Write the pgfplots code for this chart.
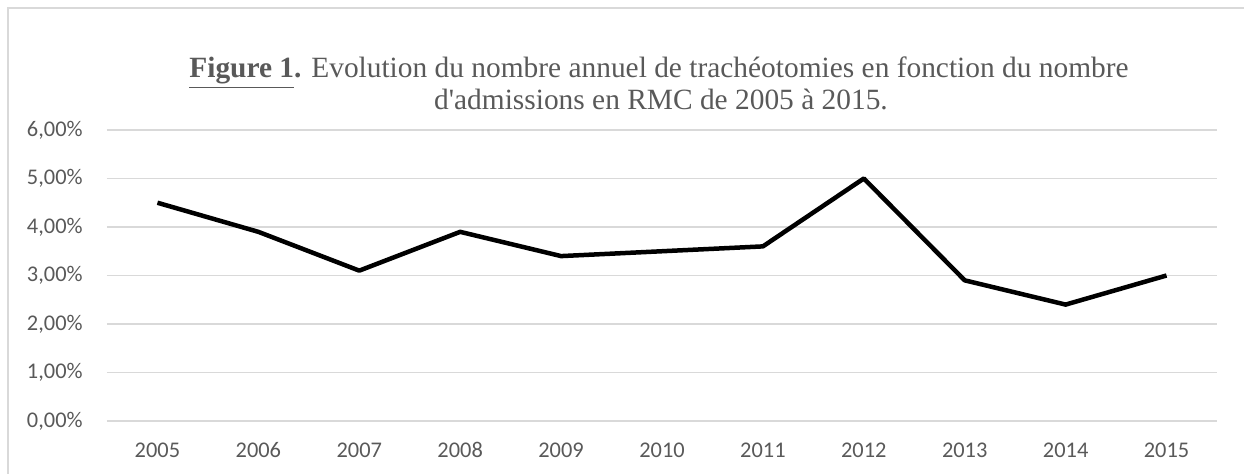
\documentclass[border=0pt]{standalone}
\usepackage{pgfplots}
\pgfplotsset{compat=1.18}
\usepackage{fontspec}
\setmainfont{Liberation Serif}[Ligatures=TeXOff]
\newfontfamily\calibri{Carlito}
\definecolor{txt}{HTML}{595959}
\definecolor{gridc}{HTML}{D9D9D9}
\begin{document}
\begin{tikzpicture}[x=1pt,y=1pt]
\useasboundingbox (0,0) rectangle (622,237);
\draw[gridc, line width=1pt] (4,-20) -- (4,233) -- (640,233);
\begin{axis}[
  at={(53.5pt,26.5pt)}, anchor=south west,
  scale only axis, width=555pt, height=145.5pt,
  xmin=-0.5, xmax=10.5, ymin=0, ymax=6,
  axis line style={draw=none},
  tick style={draw=none},
  xtick={0,...,10},
  xticklabels={2005,2006,2007,2008,2009,2010,2011,2012,2013,2014,2015},
  ytick={0,...,6},
  yticklabels={{0,00\%},{1,00\%},{2,00\%},{3,00\%},{4,00\%},{5,00\%},{6,00\%}},
  xmajorgrids=false, ymajorgrids=true,
  major grid style={draw=gridc, line width=0.75pt},
  ticklabel style={font=\calibri\fontsize{11.2}{13}\selectfont, text=txt, inner sep=0pt},
  xticklabel style={anchor=base, yshift=-18.5pt},
  yticklabel style={anchor=east, xshift=-12pt},
  clip=false,
]
\addplot[black, line width=2.25pt, line join=round] coordinates {
(0,4.5) (1,3.9) (2,3.1) (3,3.9) (4,3.4) (5,3.5) (6,3.6) (7,5.0) (8,2.9) (9,2.4) (10,3.0)};
\end{axis}
\node[anchor=base, text=txt, font=\fontsize{14.7}{17}\selectfont] at (329.5,198) {\textbf{\underline{Figure 1}.} Evolution du nombre annuel de trachéotomies en fonction du nombre};
\node[anchor=base, text=txt, font=\fontsize{14.7}{17}\selectfont] at (330.5,182) {d'admissions en RMC de 2005 à 2015.};
\end{tikzpicture}
\end{document}
